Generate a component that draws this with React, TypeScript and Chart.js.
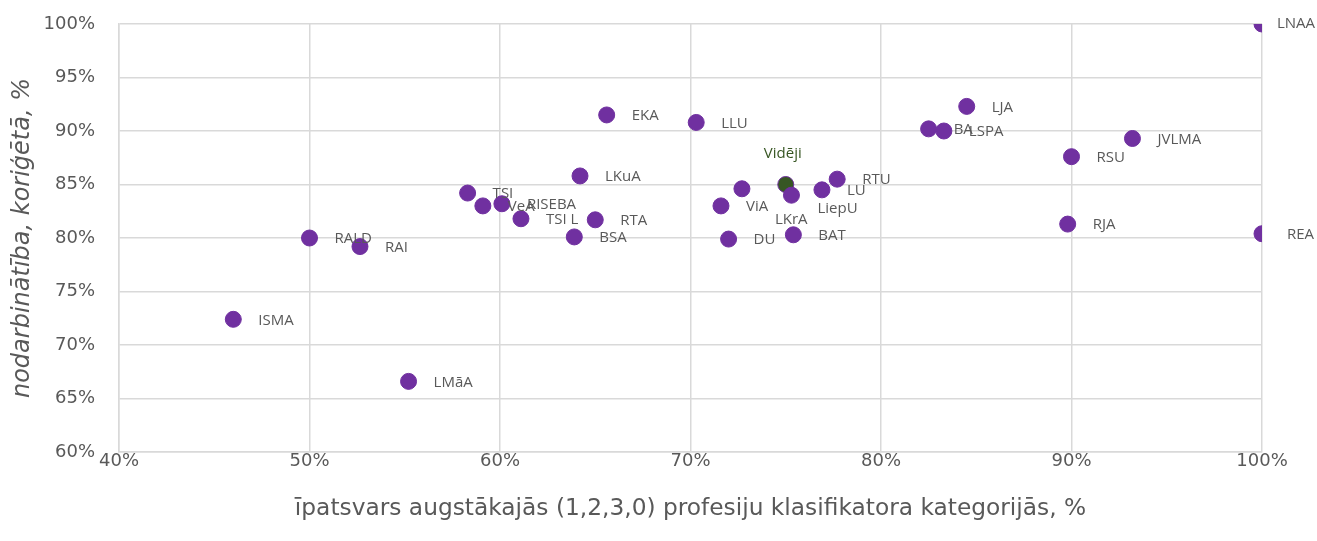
import React, { useEffect, useRef } from "react";
import { Chart, registerables } from "chart.js";

Chart.register(...registerables);

const names = ["LNAA", "REA", "RJA", "RSU", "JVLMA", "LJA", "BA", "LSPA", "RTU", "LU", "LiepU", "LKrA", "ViA", "DU", "BAT", "EKA", "LLU", "LKuA", "RTA", "BSA", "TSI", "VeA", "RISEBA", "TSI L", "RALD", "RAI", "ISMA", "LMāA"];
const shareTopCategories = [100, 100, 89.8, 90.0, 93.2, 84.5, 82.5, 83.3, 77.7, 76.9, 75.3, 72.7, 71.6, 72.0, 75.4, 65.6, 70.3, 64.2, 65.0, 63.9, 58.3, 59.1, 60.1, 61.1, 50.0, 52.65, 46.0, 55.2];
const employment = [100, 80.4, 81.3, 87.6, 89.3, 92.3, 90.2, 90.0, 85.5, 84.5, 84.0, 84.6, 83.0, 79.9, 80.3, 91.5, 90.8, 85.8, 81.7, 80.1, 84.2, 83.0, 83.2, 81.8, 80.0, 79.2, 72.4, 66.6];

const averageName = "Vidēji";
const averageX = [75.0];
const averageY = [85.0];

const xTitle = "īpatsvars augstākajās (1,2,3,0) profesiju klasifikatora kategorijās, %";
const yTitle = "nodarbinātība, koriģētā, %";

// label placement (pixels relative to point)
const labelOffsets: Record<string, [number, number]> = {
  LNAA: [15, 0],
  LiepU: [26, 14],
  LKrA: [33, 31],
};

const labelPlugin = {
  id: "pointLabels",
  afterDatasetsDraw(chart: any) {
    const ctx = chart.ctx;
    ctx.save();
    ctx.font = "15px 'Open Sans'";
    ctx.textBaseline = "middle";
    const meta0 = chart.getDatasetMeta(0);
    meta0.data.forEach((pt: any, i: number) => {
      const name = names[i];
      const off = labelOffsets[name] || [25, 1];
      ctx.fillStyle = "#595959";
      ctx.textAlign = "left";
      ctx.fillText(name, pt.x + off[0], pt.y + off[1]);
    });
    const meta1 = chart.getDatasetMeta(1);
    meta1.data.forEach((pt: any) => {
      ctx.fillStyle = "#375623";
      ctx.textAlign = "center";
      ctx.fillText(averageName, pt.x - 3, pt.y - 31);
    });
    ctx.restore();
  },
};

export default function App() {
  const ref = useRef<HTMLCanvasElement | null>(null);
  useEffect(() => {
    if (!ref.current) return;
    const chart = new Chart(ref.current, {
      type: "scatter",
      data: {
        datasets: [
          {
            label: "Augstskolas",
            data: names.map((_, i) => ({ x: shareTopCategories[i], y: employment[i] })),
            backgroundColor: "#7030a0",
            borderColor: "#7030a0",
            pointRadius: 8,
            pointHoverRadius: 8,
          },
          {
            label: averageName,
            data: averageX.map((x, i) => ({ x, y: averageY[i] })),
            backgroundColor: "#375623",
            borderColor: "#7030a0",
            borderWidth: 1,
            pointRadius: 8,
            pointHoverRadius: 8,
          },
        ],
      },
      options: {
        animation: false,
        responsive: true,
        maintainAspectRatio: false,
        layout: { autoPadding: false, padding: { top: 24, right: 55, left: 0, bottom: 0 } },
        plugins: { legend: { display: false }, tooltip: { enabled: false } },
        scales: {
          x: {
            type: "linear",
            min: 40,
            max: 100,
            ticks: {
              stepSize: 10,
              padding: -1,
              color: "#595959",
              font: { family: "'DejaVu Sans'", size: 18 },
              callback: (v: any) => v + "%",
            },
            grid: { color: "#d9d9d9", drawTicks: false, lineWidth: 1.5 },
            border: { color: "#d9d9d9", width: 1.5 },
            title: {
              display: true,
              text: xTitle,
              color: "#595959",
              font: { family: "'DejaVu Sans'", size: 23.3 },
              padding: { top: 0, bottom: 18 },
            },
            afterFit: (s: any) => {
              s.height = 89;
            },
          },
          y: {
            type: "linear",
            min: 60,
            max: 100,
            ticks: {
              stepSize: 5,
              padding: 24,
              color: "#595959",
              font: { family: "'DejaVu Sans'", size: 18 },
              callback: (v: any) => v + "%",
            },
            grid: { color: "#d9d9d9", drawTicks: false, lineWidth: 1.5 },
            border: { color: "#d9d9d9", width: 1.5 },
            title: {
              display: true,
              text: yTitle,
              color: "#595959",
              font: { family: "'DejaVu Sans'", size: 24, style: "italic" },
              padding: { top: 8, bottom: 0 },
            },
            afterFit: (s: any) => {
              s.width = 119;
              s.paddingTop = 0;
              s.paddingBottom = 0;
            },
          },
        },
      },
      plugins: [labelPlugin],
    });
    return () => chart.destroy();
  }, []);
  return (
    <div style={{ position: "fixed", left: 0, top: 0, width: 1317, height: 541, background: "#fff" }}>
      <canvas ref={ref} />
    </div>
  );
}
